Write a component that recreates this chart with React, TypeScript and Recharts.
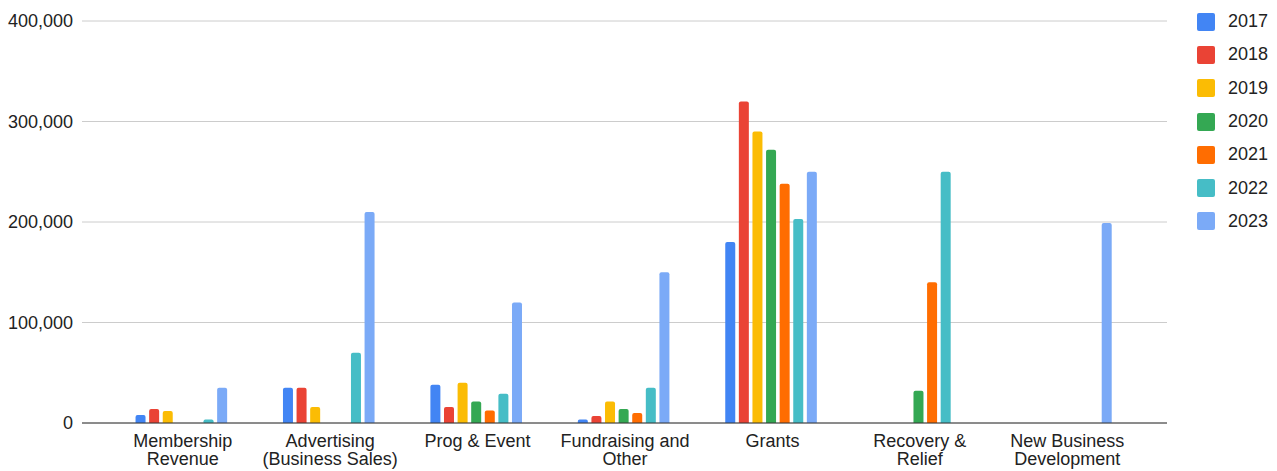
import { BarChart, Bar, XAxis, YAxis, CartesianGrid, Legend } from "recharts";

const categories = [
  "Membership\nRevenue",
  "Advertising\n(Business Sales)",
  "Prog & Event",
  "Fundraising and\nOther",
  "Grants",
  "Recovery &\nRelief",
  "New Business\nDevelopment",
];

const years = ["2017", "2018", "2019", "2020", "2021", "2022", "2023"];
const colors = ["#4285F4", "#EA4335", "#FBBC04", "#34A853", "#FF6D01", "#46BDC6", "#7BAAF7"];

// values per category, one list per year
const v2017 = [8000, 35000, 38000, 3500, 180000, 0, 0];
const v2018 = [14000, 35000, 16000, 7000, 320000, 0, 0];
const v2019 = [12000, 16000, 40000, 21500, 290000, 0, 0];
const v2020 = [0, 0, 21500, 14000, 272000, 32000, 0];
const v2021 = [0, 0, 12500, 10000, 238000, 140000, 0];
const v2022 = [3500, 70000, 29000, 35000, 203000, 250000, 0];
const v2023 = [35000, 210000, 120000, 150000, 250000, 0, 199000];

const yTicks = [0, 100000, 200000, 300000, 400000];

const seriesValues = [v2017, v2018, v2019, v2020, v2021, v2022, v2023];

const data = categories.map((name, i) => {
  const row: Record<string, string | number> = { name };
  years.forEach((y, j) => {
    row[y] = seriesValues[j][i];
  });
  return row;
});

const FONT = "'Liberation Sans', Arial, sans-serif";
const TEXT = "#222";

function CategoryTick({ x, y, payload }: any) {
  const lines = String(payload.value).split("\n");
  return (
    <text x={x} y={y} textAnchor="middle" fill={TEXT} fontSize={18} fontFamily={FONT}>
      {lines.map((l, i) => (
        <tspan key={i} x={x} dy={i === 0 ? 24 : 18}>
          {l}
        </tspan>
      ))}
    </text>
  );
}

function YearLegend() {
  return (
    <div style={{ width: 80, fontFamily: FONT, fontSize: 18, color: TEXT }}>
      {years.map((y, i) => (
        <div key={y} style={{ display: "flex", alignItems: "center", height: 33.3 }}>
          <span
            style={{
              display: "inline-block",
              width: 18,
              height: 18,
              borderRadius: 2,
              background: colors[i],
              marginRight: 13,
            }}
          />
          <span>{y}</span>
        </div>
      ))}
    </div>
  );
}

export default function App() {
  return (
    <div style={{ position: "absolute", left: 0, top: 0, background: "#fff" }}>
      <BarChart
        width={1277}
        height={471}
        data={data}
        margin={{ top: 21, right: 30, bottom: 0, left: 0 }}
        barCategoryGap="18%"
        barGap={3.6}
      >
        <CartesianGrid vertical={false} stroke="#cccccc" />
        <XAxis
          dataKey="name"
          height={48}
          interval={0}
          tickLine={false}
          tickSize={0}
          tickMargin={0}
          axisLine={{ stroke: "#333333" }}
          padding={{ left: 27, right: 26 }}
          tick={<CategoryTick />}
        />
        <YAxis
          width={82}
          domain={[0, 400000]}
          ticks={yTicks}
          axisLine={false}
          tickLine={false}
          tickSize={0}
          tickMargin={9}
          tickFormatter={(v: number) => v.toLocaleString("en-US")}
          tick={{ fill: TEXT, fontSize: 18, fontFamily: FONT }}
        />
        <Legend
          layout="vertical"
          align="right"
          verticalAlign="top"
          content={<YearLegend />}
          wrapperStyle={{ top: 5, left: 1197, width: 80 }}
        />
        {years.map((y, i) => (
          <Bar key={y} dataKey={y} fill={colors[i]} radius={[2, 2, 0, 0]} isAnimationActive={false} />
        ))}
      </BarChart>
    </div>
  );
}
